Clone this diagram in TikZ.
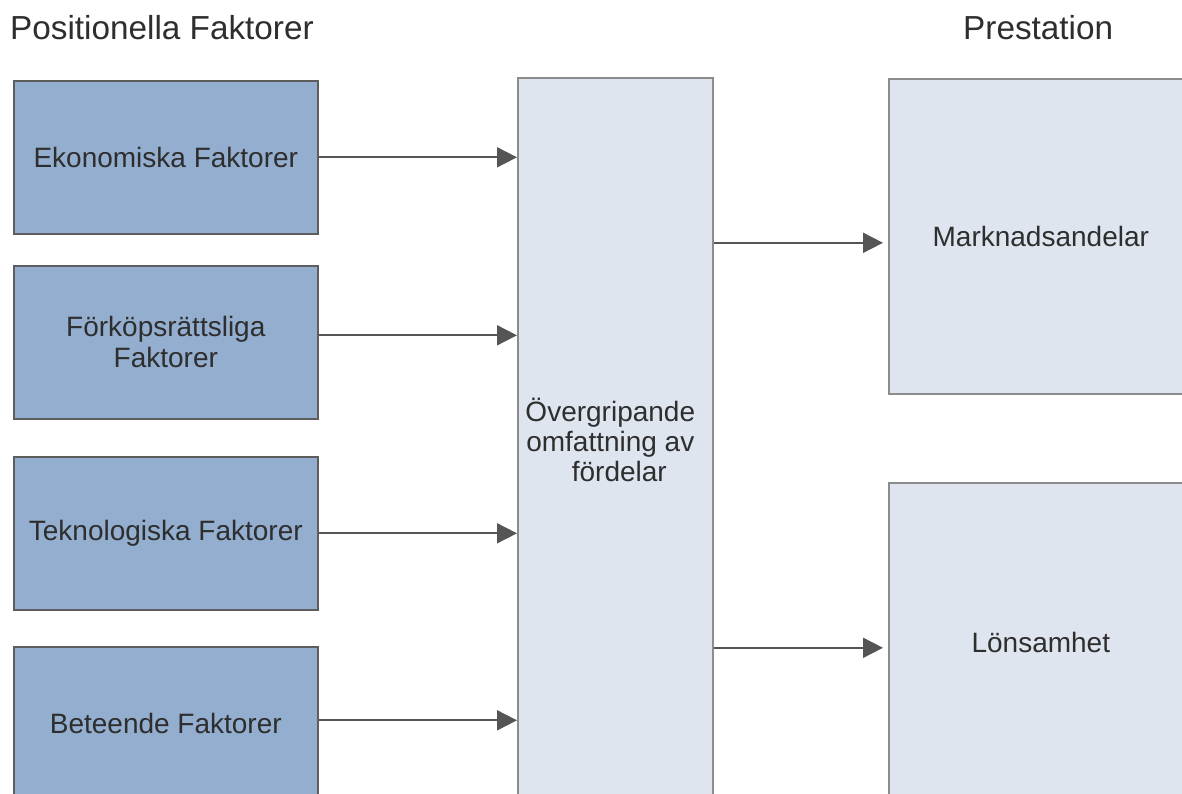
\documentclass[tikz,border=0pt]{standalone}
\usepackage{fontspec}
\setmainfont{Liberation Sans}
\usetikzlibrary{arrows.meta}
\definecolor{darkfill}{HTML}{93AECE}
\definecolor{darkline}{HTML}{5E5E5E}
\definecolor{lightfill}{HTML}{DEE5EF}
\definecolor{lightline}{HTML}{8C8C8C}
\definecolor{txt}{HTML}{2E2E2E}
\definecolor{arrcol}{HTML}{555555}
\tikzset{
  factorbox/.style={draw=darkline, fill=darkfill, line width=1.6pt, anchor=north west,
    minimum width=304pt, minimum height=153pt, inner sep=0pt, align=center,
    text=txt, font=\fontsize{28}{31}\selectfont},
  lightbox/.style={draw=lightline, fill=lightfill, line width=1.6pt, anchor=north west,
    inner sep=0pt, align=center, text=txt, font=\fontsize{28}{30}\selectfont},
  heading/.style={anchor=base west, inner sep=0pt, text=txt, font=\fontsize{33.3}{36}\selectfont},
  arr/.style={draw=arrcol, line width=1.8pt, -{Triangle[length=20pt,width=20pt]}}
}
\begin{document}
\begin{tikzpicture}[x=1pt,y=-1pt]
\useasboundingbox (0,0) rectangle (1182,793);
\clip (0,0) rectangle (1182,793);
\fill[white] (0,0) rectangle (1182,793);

\node[heading] (t1) at (10,39) {Positionella Faktorer};
\node[heading] (t2) at (963,39) {Prestation};

\node[factorbox] (b1) at (13,80) {Ekonomiska Faktorer};
\node[factorbox] (b2) at (13,265) {Förköpsrättsliga\\Faktorer};
\node[factorbox] (b3) at (13,456) {Teknologiska Faktorer};
\node[factorbox] (b4) at (13,646) {Beteende Faktorer};

\node[lightbox, minimum width=195pt, minimum height=728pt] (m) at (517,77) {};
\node[text=txt, align=center, inner sep=0pt, font=\fontsize{28}{30}\selectfont]
  (mt) at ([xshift=-5pt,yshift=1.5pt]m.center) {Övergripande\\omfattning av\\\hspace*{18pt}fördelar};

\node[lightbox, minimum width=304pt, minimum height=315pt] (mk) at (888,78) {Marknadsandelar};
\node[lightbox, minimum width=304pt, minimum height=320pt] (lo) at (888,482) {Lönsamhet};

\draw[arr] (b1.east) -- (b1.east -| m.west);
\draw[arr] ([yshift=7pt]b2.east) -- ([yshift=7pt]b2.east -| m.west);
\draw[arr] (b3.east) -- (b3.east -| m.west);
\draw[arr] ([yshift=3pt]b4.east) -- ([yshift=3pt]b4.east -| m.west);

\draw[arr, shorten >=5pt] ([yshift=-6.5pt]m.east |- mk.west) -- ([yshift=-6.5pt]mk.west);
\draw[arr, shorten >=5pt] ([yshift=-5pt]m.east |- lo.west) -- ([yshift=-5pt]lo.west);
\end{tikzpicture}
\end{document}
